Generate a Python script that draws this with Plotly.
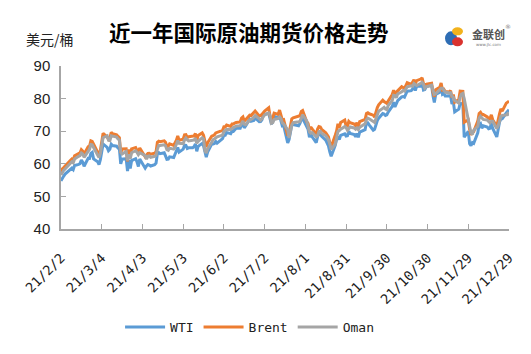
import plotly.graph_objects as go

# ---- data ----
month_days = {
    2: [2, 3, 4, 5, 8, 9, 10, 11, 12, 15, 16, 17, 18, 19, 22, 23, 24, 25, 26],
    3: [1, 2, 3, 4, 5, 8, 9, 10, 11, 12, 15, 16, 17, 18, 19, 22, 23, 24, 25, 26, 29, 30, 31],
    4: [1, 5, 6, 7, 8, 9, 12, 13, 14, 15, 16, 19, 20, 21, 22, 23, 26, 27, 28, 29, 30],
    5: [3, 4, 5, 6, 7, 10, 11, 12, 13, 14, 17, 18, 19, 20, 21, 24, 25, 26, 27, 28],
    6: [1, 2, 3, 4, 7, 8, 9, 10, 11, 14, 15, 16, 17, 18, 21, 22, 23, 24, 25, 28, 29, 30],
    7: [1, 2, 5, 6, 7, 8, 9, 12, 13, 14, 15, 16, 19, 20, 21, 22, 23, 26, 27, 28, 29, 30],
    8: [2, 3, 4, 5, 6, 9, 10, 11, 12, 13, 16, 17, 18, 19, 20, 23, 24, 25, 26, 27, 30, 31],
    9: [1, 2, 3, 6, 7, 8, 9, 10, 13, 14, 15, 16, 17, 20, 21, 22, 23, 24, 27, 28, 29, 30],
    10: [1, 4, 5, 6, 7, 8, 11, 12, 13, 14, 15, 18, 19, 20, 21, 22, 25, 26, 27, 28, 29],
    11: [1, 2, 3, 4, 5, 8, 9, 10, 11, 12, 15, 16, 17, 18, 19, 22, 23, 24, 25, 26, 29, 30],
    12: [1, 2, 3, 6, 7, 8, 9, 10, 13, 14, 15, 16, 17, 20, 21, 22, 23, 24, 27, 28, 29],
}
dates = [f"2021-{m:02d}-{d:02d}" for m, ds in month_days.items() for d in ds]

wti = [
    54.76, 55.69, 56.23, 56.85, 57.97, 58.36, 58.68, 58.24, 59.47, 59.80, 60.05, 61.14, 60.52, 59.24, 61.70, 61.67, 63.22, 63.53, 61.50,
    60.64, 59.75, 61.28, 63.83, 66.09, 65.05, 64.01, 64.44, 66.02, 65.61, 65.39, 64.80, 64.60, 60.00, 61.42, 61.55, 57.76, 61.18, 58.56, 60.97, 61.56, 60.55, 59.16,
    61.45, 58.65, 59.33, 59.77, 59.60, 59.32, 59.70, 60.18, 63.15, 63.46, 63.13, 63.38, 62.44, 61.35, 61.43, 62.14, 61.91, 62.94, 63.86, 65.01, 63.58,
    64.49, 65.69, 65.63, 64.71, 64.90, 64.92, 65.28, 66.08, 63.82, 65.37, 66.27, 65.49, 63.36, 62.05, 63.58, 66.05, 66.07, 66.21, 66.85, 66.32,
    67.72, 68.83, 68.81, 69.62, 69.23, 70.05, 69.96, 70.29, 70.91, 70.88, 72.12, 72.15, 71.04, 71.64, 73.66, 73.06, 73.08, 73.30, 74.05, 72.91, 72.98, 73.47,
    75.23, 75.16, 75.50, 73.37, 72.20, 72.94, 74.56, 74.10, 75.25, 73.13, 71.65, 71.81, 66.42, 67.42, 70.30, 71.91, 72.07, 71.91, 71.65, 72.39, 73.62, 73.95,
    71.26, 70.56, 68.15, 69.09, 68.28, 66.48, 68.29, 69.25, 69.09, 68.44, 67.29, 66.59, 65.46, 63.69, 62.32, 65.64, 67.54, 68.36, 67.42, 68.74, 69.21, 68.50,
    68.59, 69.99, 69.29, 69.00, 68.35, 69.30, 68.14, 69.72, 70.45, 70.46, 72.61, 72.61, 71.97, 70.29, 70.56, 72.23, 73.30, 73.98, 75.45, 75.29, 74.83, 75.03,
    75.88, 77.62, 78.93, 77.43, 78.30, 79.35, 80.52, 80.64, 80.44, 81.31, 82.28, 82.44, 82.96, 83.87, 82.50, 83.76, 83.76, 84.65, 82.66, 82.81, 83.57,
    84.05, 83.91, 80.86, 78.81, 81.27, 81.93, 84.15, 81.34, 81.59, 80.79, 80.88, 80.76, 78.36, 79.01, 75.94, 76.75, 78.50, 78.39, 78.40, 68.15, 69.95, 66.18,
    65.57, 66.50, 66.26, 69.49, 72.05, 72.36, 70.94, 71.67, 71.29, 70.73, 70.87, 72.38, 70.86, 68.23, 71.12, 72.76, 73.79, 73.80, 75.57, 75.98, 76.56,
]

brent = [
    57.46, 58.46, 58.84, 59.34, 60.56, 61.09, 61.47, 61.14, 62.43, 63.30, 63.35, 64.34, 63.93, 62.91, 65.24, 65.37, 67.04, 66.88, 66.13,
    63.69, 62.70, 64.07, 66.74, 69.36, 68.24, 67.52, 67.90, 69.63, 69.22, 68.88, 68.39, 68.00, 63.28, 64.53, 64.62, 60.79, 64.41, 61.95, 64.57, 64.98, 64.14, 63.54,
    64.86, 62.15, 62.74, 63.16, 63.20, 62.95, 63.28, 63.67, 66.58, 66.94, 66.77, 67.05, 66.57, 65.32, 65.40, 66.11, 65.65, 66.42, 67.27, 68.56, 67.25,
    67.56, 68.88, 68.96, 68.09, 68.28, 68.32, 68.55, 69.32, 67.05, 68.71, 69.46, 68.71, 66.66, 65.11, 66.44, 68.46, 68.65, 68.87, 69.46, 69.63,
    70.25, 71.35, 71.31, 71.89, 71.49, 72.22, 72.22, 72.52, 72.69, 72.86, 73.99, 74.39, 73.08, 73.51, 74.90, 74.81, 75.19, 75.56, 76.18, 74.68, 74.76, 75.13,
    75.84, 76.17, 77.16, 74.53, 73.43, 74.12, 75.55, 75.16, 76.49, 74.76, 73.47, 73.59, 68.62, 69.35, 72.23, 73.79, 74.10, 74.50, 74.48, 74.74, 76.05, 76.33,
    72.89, 72.41, 70.38, 71.29, 70.70, 69.04, 70.63, 71.44, 71.31, 70.59, 69.51, 69.03, 68.23, 66.45, 65.18, 68.75, 70.05, 72.25, 71.07, 72.70, 73.41, 71.63,
    71.59, 73.03, 72.61, 72.22, 71.69, 72.60, 71.45, 72.92, 73.51, 73.60, 75.46, 75.67, 75.34, 74.92, 74.36, 76.19, 77.25, 78.09, 79.53, 79.09, 78.64, 78.52,
    79.28, 81.26, 82.56, 81.08, 81.95, 82.39, 83.65, 83.42, 83.18, 84.00, 84.86, 84.33, 85.08, 85.82, 84.61, 85.53, 85.99, 86.40, 84.58, 84.32, 84.38,
    84.71, 84.72, 81.99, 80.54, 82.74, 83.43, 84.78, 82.64, 82.87, 82.17, 82.05, 82.43, 80.28, 81.24, 78.89, 79.70, 82.31, 82.25, 82.22, 72.72, 73.44, 70.57,
    68.87, 69.67, 69.88, 73.08, 75.44, 75.82, 75.15, 75.15, 74.39, 73.70, 73.88, 75.02, 73.52, 71.52, 73.98, 75.29, 76.85, 76.14, 78.60, 78.94, 79.23,
]

oman = [
    56.6, 57.5, 58.0, 58.4, 59.6, 60.2, 60.6, 60.3, 61.5, 62.3, 62.5, 63.3, 63.0, 62.0, 64.1, 64.4, 65.9, 65.8, 65.0,
    62.9, 61.9, 63.2, 65.6, 68.0, 68.6, 67.2, 67.1, 68.6, 68.5, 68.2, 67.6, 67.3, 63.6, 63.0, 63.8, 61.0, 62.9, 61.6, 63.4, 64.0, 63.5, 62.8,
    63.4, 62.5, 61.4, 62.3, 62.4, 62.0, 62.3, 62.6, 64.5, 65.6, 65.6, 65.8, 65.5, 64.3, 64.1, 64.8, 64.5, 65.0, 66.0, 67.1, 66.3,
    66.2, 67.3, 67.9, 67.4, 67.0, 67.2, 67.3, 67.9, 66.3, 66.9, 68.0, 67.6, 64.0, 63.3, 64.6, 66.6, 67.4, 67.6, 68.1, 68.3,
    68.8, 69.9, 70.2, 70.6, 70.5, 71.0, 71.2, 71.3, 71.6, 71.7, 72.5, 73.1, 72.2, 72.0, 73.4, 73.6, 73.9, 74.3, 74.8, 73.9, 73.4, 73.8,
    74.5, 75.0, 75.6, 74.8, 72.4, 72.6, 73.6, 73.9, 74.4, 73.9, 72.6, 72.3, 70.4, 67.9, 69.9, 71.9, 72.6, 72.7, 72.9, 73.0, 74.2, 75.0,
    73.2, 71.2, 69.8, 69.4, 69.6, 68.3, 68.6, 69.9, 70.0, 69.4, 68.6, 68.0, 67.4, 66.2, 64.4, 66.0, 68.4, 69.9, 70.2, 70.6, 71.4, 71.1,
    70.3, 70.9, 71.3, 71.0, 70.6, 71.0, 70.5, 71.2, 72.0, 72.3, 73.5, 74.0, 73.8, 73.1, 72.7, 73.9, 75.2, 76.1, 77.0, 77.3, 76.8, 76.6,
    77.9, 79.4, 81.0, 80.9, 80.3, 81.4, 82.1, 82.5, 82.3, 82.8, 83.6, 83.9, 83.8, 84.6, 84.4, 84.0, 84.7, 85.0, 84.4, 83.2, 83.6,
    84.0, 84.1, 82.6, 81.3, 81.5, 82.6, 83.2, 83.2, 82.4, 82.0, 81.7, 81.8, 80.7, 80.4, 79.4, 78.6, 80.4, 81.4, 81.6, 80.0, 73.5, 71.0,
    69.5, 69.0, 70.3, 71.5, 74.0, 74.6, 74.1, 73.6, 73.4, 72.8, 72.6, 73.1, 73.0, 70.8, 71.6, 73.0, 74.5, 74.8, 75.0, 75.4, 74.8,
]

tick_dates = ["2021-02-02", "2021-03-04", "2021-04-03", "2021-05-03", "2021-06-02", "2021-07-02",
              "2021-08-01", "2021-08-31", "2021-09-30", "2021-10-30", "2021-11-29", "2021-12-29"]
tick_labels = ["21/2/2", "21/3/4", "21/4/3", "21/5/3", "21/6/2", "21/7/2",
               "21/8/1", "21/8/31", "21/9/30", "21/10/30", "21/11/29", "21/12/29"]

series_names = ["WTI", "Brent", "Oman"]
series_colors = ["#5B9BD5", "#ED7D31", "#A5A5A5"]

# ---- figure ----
fig = go.Figure()
for name, vals, col in zip(series_names, [wti, brent, oman], series_colors):
    fig.add_trace(go.Scatter(x=dates, y=vals, name=name, mode="lines",
                             line=dict(color=col, width=3)))

CJK = "Noto Sans CJK SC"
fig.update_layout(
    width=531, height=354,
    margin=dict(l=61, r=22, t=66, b=125),
    paper_bgcolor="white", plot_bgcolor="white",
    showlegend=True,
    legend=dict(orientation="h", xref="container", yref="container",
                x=0.47, xanchor="center", y=0.076, yanchor="middle",
                font=dict(family="DejaVu Sans Mono", size=13, color="#222"),
                itemwidth=40, tracegroupgap=0),
    xaxis=dict(type="date", range=["2021-02-02", "2021-12-29"],
               tickvals=tick_dates, ticktext=tick_labels, tickangle=-45,
               tickfont=dict(family="DejaVu Sans Mono", size=13.5, color="#222"),
               showgrid=False, zeroline=False, automargin=False,
               showline=True, linecolor="#A6A6A6", linewidth=1.5,
               ticks="inside", ticklen=5, tickcolor="#A6A6A6", tickwidth=1.2,
               ticklabelstandoff=14),
    yaxis=dict(range=[40, 90], dtick=10, tick0=40,
               tickfont=dict(family="Liberation Sans", size=15, color="#222"),
               showgrid=False, zeroline=False, automargin=False,
               showline=True, linecolor="#A6A6A6", linewidth=1.5,
               ticks="inside", ticklen=5, tickcolor="#A6A6A6", tickwidth=1.2,
               ticklabelstandoff=6),
    annotations=[
        dict(text="<b>近一年国际原油期货价格走势</b>", xref="paper", yref="paper",
             x=(249 - 61) / 448, y=(229 - 31) / 163.3, xanchor="center", yanchor="middle",
             showarrow=False, font=dict(family=CJK, size=21.5, color="#000")),
        dict(text="美元/桶", xref="paper", yref="paper",
             x=(50 - 61) / 448, y=(229 - 39) / 163.3, xanchor="center", yanchor="middle",
             showarrow=False, font=dict(family=CJK, size=14, color="#222")),
        dict(text="<b>金联创</b>", xref="paper", yref="paper",
             x=(488 - 61) / 448, y=(229 - 34) / 163.3, xanchor="center", yanchor="middle",
             showarrow=False, font=dict(family=CJK, size=11, color="#555")),
        dict(text="®", xref="paper", yref="paper",
             x=(508 - 61) / 448, y=(229 - 26) / 163.3, xanchor="center", yanchor="middle",
             showarrow=False, font=dict(family="DejaVu Sans", size=6, color="#777")),
        dict(text="www.jlc.com", xref="paper", yref="paper",
             x=(488 - 61) / 448, y=(229 - 44) / 163.3, xanchor="center", yanchor="middle",
             showarrow=False, font=dict(family="DejaVu Sans", size=4, color="#777")),
    ],
)

# small logo icon
def px_to_paper(x, y):
    return (x - 61) / 448, (229 - y) / 163.3

logo = [((445, 31, 457, 45), "#2E6DB4"), ((452, 27, 463, 35), "#F2B21C"), ((452, 37, 463, 46), "#D9322E")]
for (x0, y0, x1, y1), col in logo:
    a0, b1 = px_to_paper(x0, y0)
    a1, b0 = px_to_paper(x1, y1)
    fig.add_shape(type="circle", xref="paper", yref="paper", x0=a0, x1=a1, y0=b0, y1=b1,
                  fillcolor=col, line=dict(width=0))

fig.write_html("out.html")
